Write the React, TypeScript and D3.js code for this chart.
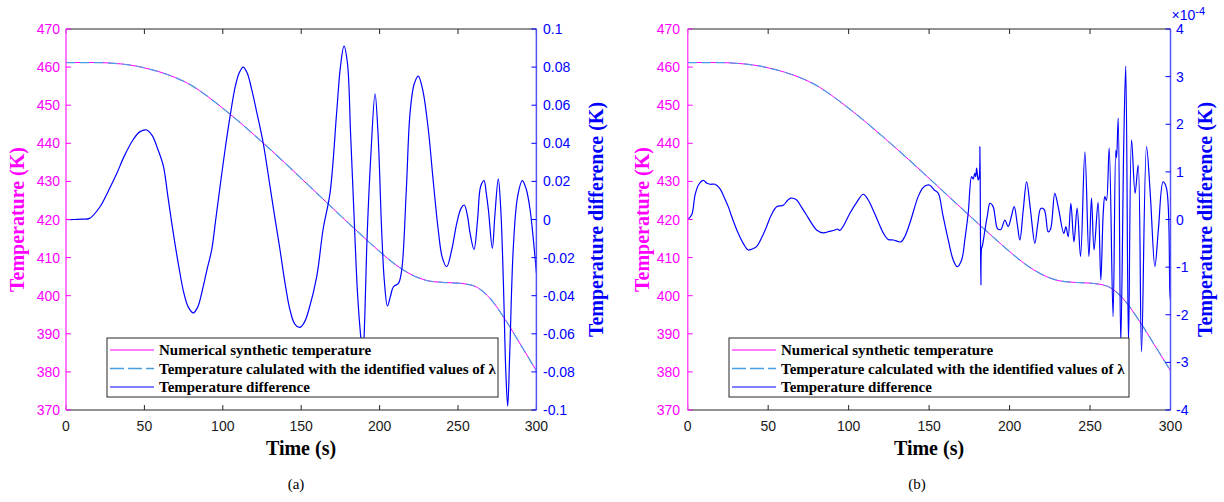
import React from 'react';
import * as d3 from 'd3';

// ---------- data ----------
const tempTime = [0, 10, 20, 30, 40, 50, 60, 70, 80, 90, 100, 110, 120, 130, 140, 150, 160, 170, 180, 190, 200, 210, 220, 230, 240, 250, 260, 270, 280, 290, 300];
const tempValues = [461.2, 461.2, 461.2, 461.0, 460.6, 459.8, 458.7, 457.2, 455.2, 452.4, 449.2, 445.8, 442.2, 438.5, 434.7, 430.8, 426.9, 423.0, 419.1, 415.3, 411.6, 408.2, 405.6, 404.0, 403.5, 403.3, 402.6, 399.5, 393.8, 387.1, 380.3];

const diffATime = [0, 5, 10, 15, 21.7, 27, 32.3, 37, 42.9, 47, 51.4, 55, 58.5, 62.1, 65, 68.4, 72, 75, 78, 81.2, 84, 87, 90, 92.9, 95.5, 98.2, 101.5, 104.6, 108, 110.5, 113, 115.5, 118.5, 122, 125.8, 130, 133, 136.5, 140, 143, 146, 149.2, 152, 155, 159.9, 164, 168.4, 172.6, 175, 177.3, 179.5, 181.5, 183.2, 186, 188, 189.3, 190.6, 191.8, 194.5, 197.1, 199, 201.3, 203, 205, 207, 208.8, 212, 214.1, 217, 219.4, 222, 224.7, 227.5, 231.1, 234, 237.4, 240, 242.8, 246, 249.2, 252, 254, 256, 257.7, 260.2, 262.5, 264.4, 266.6, 268, 269.4, 271.9, 273.5, 275.7, 277.3, 278.9, 280.5, 281.7, 283, 285.3, 288, 291, 293.5, 296, 298, 300];
const diffAValues = [0, 0, 0.0002, 0.0006, 0.0067, 0.015, 0.024, 0.033, 0.042, 0.046, 0.047, 0.044, 0.037, 0.028, 0.012, -0.007, -0.025, -0.038, -0.046, -0.049, -0.046, -0.037, -0.026, -0.016, 0.0, 0.017, 0.037, 0.054, 0.070, 0.077, 0.080, 0.077, 0.068, 0.055, 0.040, 0.018, 0.002, -0.016, -0.035, -0.048, -0.055, -0.0566, -0.054, -0.047, -0.030, -0.005, 0.014, 0.056, 0.080, 0.091, 0.082, 0.045, 0.012, -0.040, -0.062, -0.072, -0.050, -0.0143, 0.035, 0.066, 0.045, -0.0055, -0.032, -0.0454, -0.040, -0.0353, -0.0335, -0.0265, 0.015, 0.0557, 0.071, 0.0753, 0.068, 0.047, 0.022, -0.0055, -0.020, -0.0248, -0.016, -0.002, 0.006, 0.0076, 0.002, -0.0072, -0.0157, 0.0, 0.0172, 0.0204, 0.014, 0.005, -0.0151, 0.002, 0.0213, 0.005, -0.0318, -0.080, -0.098, -0.070, -0.0143, 0.012, 0.0204, 0.016, 0.005, -0.010, -0.028];

// panel (b) difference, in units of 1e-4 K
const diffBTime = [0, 2.5, 4.5, 6.6, 9.7, 12, 13.9, 17, 20, 22.5, 25.2, 28, 31.4, 34.5, 37.6, 40, 42.8, 46, 49, 52, 55.3, 59.4, 62, 64.2, 67.7, 70.5, 73.9, 77, 80.1, 84.2, 88, 91.5, 93, 94.6, 97, 100.8, 105, 109.1, 112, 114.3, 118.4, 121.5, 124.6, 127.7, 132.5, 135, 138, 143.2, 146, 148.4, 150.5, 153.2, 155.7, 158.5, 161.9, 165, 167.5, 170.2, 172.3, 174.3, 176.4, 177.4, 178.4, 179, 179.5, 180, 180.5, 181.2, 181.6, 181.9, 182.2, 182.6, 183, 184.7, 186.3, 187.8, 189.8, 191, 192.5, 194.6, 197.1, 199.1, 201, 202.9, 204.8, 206.4, 208.5, 210.6, 213, 215.7, 217.5, 219.4, 221.5, 224, 225.5, 228.1, 230.2, 233.7, 235, 236.4, 238.1, 240, 242, 244.1, 246.8, 249.3, 250.9, 252.5, 255, 256.7, 258.2, 259.2, 260.2, 261.9, 264.3, 266, 266.5, 267.5, 269.1, 271, 272.2, 273.9, 275.8, 278, 279.9, 282, 285.1, 287.5, 290.3, 292.5, 295.4, 297.5, 299.6, 300];
const diffBValues = [0, 0.1, 0.5, 0.72, 0.82, 0.76, 0.74, 0.74, 0.65, 0.48, 0.27, 0.0, -0.29, -0.5, -0.64, -0.62, -0.57, -0.38, -0.15, 0.1, 0.27, 0.30, 0.40, 0.45, 0.41, 0.27, 0.09, -0.08, -0.22, -0.28, -0.25, -0.22, -0.2, -0.23, -0.12, 0.13, 0.36, 0.53, 0.42, 0.27, -0.05, -0.28, -0.42, -0.43, -0.47, -0.35, -0.08, 0.48, 0.66, 0.72, 0.72, 0.62, 0.55, 0.1, -0.43, -0.85, -0.99, -0.85, -0.4, 0.13, 0.90, 0.85, 0.97, 0.9, 1.08, 0.95, 0.83, 0.9, 1.53, -0.2, -1.38, -0.6, -0.57, -0.22, 0.1, 0.34, 0.27, 0.05, -0.19, -0.21, -0.01, -0.15, 0.05, 0.27, -0.1, -0.43, 0.2, 0.79, 0.2, -0.5, -0.1, 0.23, 0.21, -0.26, -0.2, 0.55, 0.27, -0.29, -0.15, -0.36, 0.34, -0.47, 0.24, -0.78, 1.42, -0.78, 0.45, -0.64, 0.36, -1.27, 0.13, 0.48, 0.4, 1.5, -2.04, 1.45, 1.3, 2.13, -2.6, 1.67, 3.22, -2.6, 1.67, 0.55, 1.14, -2.78, 1.53, 0.5, -0.99, -0.2, 0.79, 0.66, -1.52, -1.7];

const xTicks = [0, 50, 100, 150, 200, 250, 300];
const leftTicks = [370, 380, 390, 400, 410, 420, 430, 440, 450, 460, 470];
const rightTicksA = [-0.1, -0.08, -0.06, -0.04, -0.02, 0, 0.02, 0.04, 0.06, 0.08, 0.1];
const rightLabelsA = ['-0.1', '-0.08', '-0.06', '-0.04', '-0.02', '0', '0.02', '0.04', '0.06', '0.08', '0.1'];
const rightTicksB = [-4, -3, -2, -1, 0, 1, 2, 3, 4];
const rightLabelsB = ['-4', '-3', '-2', '-1', '0', '1', '2', '3', '4'];

const legendA = ['Numerical synthetic temperature', 'Temperature calulated with the identified values of λ', 'Temperature difference'];
const legendB = ['Numerical synthetic temperature', 'Temperature calculated with the identified values of λ', 'Temperature difference'];

// ---------- styling ----------
const MAGENTA = '#ff00ff';
const BLUE = '#0000ff';
const DASH = '#4a9fe0';
const AXIS = '#262626';
const SANS = '"Liberation Sans", Arial, Helvetica, sans-serif';
const SERIF = '"Liberation Serif", "Times New Roman", serif';

type PanelProps = {
  id: string;
  left: number; right: number; top: number; bottom: number;
  diffTime: number[]; diffValues: number[];
  rightDomain: [number, number];
  rightTicks: number[]; rightLabels: string[];
  leftLabelX: number; rightLabelX: number;
  leftTitleX: number; rightTitleX: number;
  timeCenter: number; tagX: number; tag: string;
  legendX: number; legendW: number; legend: string[];
  exponent?: boolean;
};

function Panel(p: PanelProps) {
  const x = d3.scaleLinear().domain([0, 300]).range([p.left, p.right]);
  const yL = d3.scaleLinear().domain([370, 470]).range([p.bottom, p.top]);
  const yR = d3.scaleLinear().domain(p.rightDomain).range([p.bottom, p.top]);

  const tempLine = d3.line<number>().x((_, i) => x(tempTime[i])).y((d) => yL(d)).curve(d3.curveMonotoneX);
  const diffLine = d3.line<number>().x((_, i) => x(p.diffTime[i])).y((d) => yR(d)).curve(d3.curveCatmullRom.alpha(0.5));

  const tl = 5;
  const midY = (p.top + p.bottom) / 2;
  const legTop = 338;
  const legH = 59;
  const rowY = [350, 368.5, 387];
  const clipId = 'clip-' + p.id;

  return (
    <g>
      <defs>
        <clipPath id={clipId}>
          <rect x={p.left} y={p.top} width={p.right - p.left} height={p.bottom - p.top} />
        </clipPath>
      </defs>
      <g clipPath={`url(#${clipId})`}>
        <path d={tempLine(tempValues) || ''} fill="none" stroke={MAGENTA} strokeWidth={1} />
        <path d={tempLine(tempValues) || ''} fill="none" stroke={DASH} strokeWidth={1.2} strokeDasharray="9,5" />
        <path d={diffLine(p.diffValues) || ''} fill="none" stroke={BLUE} strokeWidth={1.2} />
      </g>

      {/* box top and bottom */}
      <line x1={p.left} x2={p.right} y1={p.top} y2={p.top} stroke={AXIS} strokeWidth={1} />
      <line x1={p.left} x2={p.right} y1={p.bottom} y2={p.bottom} stroke={AXIS} strokeWidth={1} />
      {xTicks.map((t) => (
        <g key={'xt' + t}>
          <line x1={x(t)} x2={x(t)} y1={p.bottom} y2={p.bottom - tl} stroke={AXIS} />
          <line x1={x(t)} x2={x(t)} y1={p.top} y2={p.top + tl} stroke={AXIS} />
          <text x={x(t)} y={431} textAnchor="middle" fontFamily={SANS} fontSize={14} fill="#1a1a1a">{t}</text>
        </g>
      ))}

      {/* left axis */}
      <line x1={p.left} x2={p.left} y1={p.top} y2={p.bottom} stroke="#ff4dff" strokeWidth={1.5} />
      {leftTicks.map((t) => (
        <g key={'lt' + t}>
          <line x1={p.left} x2={p.left + tl} y1={yL(t)} y2={yL(t)} stroke={MAGENTA} />
          <text x={p.leftLabelX} y={yL(t) + 5} textAnchor="end" fontFamily={SANS} fontSize={14} fill={MAGENTA}>{t}</text>
        </g>
      ))}
      <text transform={`translate(${p.leftTitleX},${midY}) rotate(-90)`} textAnchor="middle" fontFamily={SERIF} fontWeight="bold" fontSize={20} fill={MAGENTA}>Temperature (K)</text>

      {/* right axis */}
      <line x1={p.right} x2={p.right} y1={p.top} y2={p.bottom} stroke="#5252ff" strokeWidth={1.5} />
      {p.rightTicks.map((t, i) => (
        <g key={'rt' + t}>
          <line x1={p.right} x2={p.right - tl} y1={yR(t)} y2={yR(t)} stroke={BLUE} />
          <text x={p.rightLabelX} y={yR(t) + 5} textAnchor="start" fontFamily={SANS} fontSize={14} fill={BLUE}>{p.rightLabels[i]}</text>
        </g>
      ))}
      <text transform={`translate(${p.rightTitleX},${midY}) rotate(-90)`} textAnchor="middle" fontFamily={SERIF} fontWeight="bold" fontSize={20} fill={BLUE}>Temperature difference (K)</text>
      {p.exponent && (
        <text x={p.right + 1} y={20} fontFamily={SANS} fontSize={14} fill={BLUE}>
          ×10<tspan dy={-5} fontSize={11}>-4</tspan>
        </text>
      )}

      {/* x title and tag */}
      <text x={p.timeCenter} y={455} textAnchor="middle" fontFamily={SERIF} fontWeight="bold" fontSize={20} fill="#000">Time (s)</text>
      <text x={p.tagX} y={489} textAnchor="middle" fontFamily={SERIF} fontSize={15} fill="#000">{p.tag}</text>

      {/* legend */}
      <rect x={p.legendX} y={legTop} width={p.legendW} height={legH} fill="#fff" stroke={AXIS} strokeWidth={1} />
      {p.legend.map((s, i) => (
        <g key={'lg' + i}>
          <line x1={p.legendX + 3} x2={p.legendX + 47} y1={rowY[i]} y2={rowY[i]}
            stroke={i === 0 ? MAGENTA : i === 1 ? DASH : BLUE}
            strokeWidth={i === 1 ? 1.3 : 1}
            strokeDasharray={i === 1 ? '14,4' : undefined} />
          <text x={p.legendX + 52} y={rowY[i] + 5} fontFamily={SERIF} fontWeight="bold" fontSize={15} fill="#000">{s}</text>
        </g>
      ))}
    </g>
  );
}

export default function App() {
  return (
    <svg width={1224} height={502} style={{ position: 'absolute', left: 0, top: 0, background: '#fff' }}>
      <rect x={0} y={0} width={1224} height={502} fill="#fff" />
      <Panel id="a" left={66} right={536.4} top={29} bottom={410}
        diffTime={diffATime} diffValues={diffAValues}
        rightDomain={[-0.1, 0.1]} rightTicks={rightTicksA} rightLabels={rightLabelsA}
        leftLabelX={60} rightLabelX={543} leftTitleX={24} rightTitleX={603}
        timeCenter={301} tagX={296} tag="(a)"
        legendX={107} legendW={391} legend={legendA} />
      <Panel id="b" left={687.7} right={1170.5} top={29} bottom={410}
        diffTime={diffBTime} diffValues={diffBValues}
        rightDomain={[-4, 4]} rightTicks={rightTicksB} rightLabels={rightLabelsB}
        leftLabelX={680} rightLabelX={1176} leftTitleX={649} rightTitleX={1212}
        timeCenter={929} tagX={917} tag="(b)"
        legendX={729} legendW={400} legend={legendB} exponent />
    </svg>
  );
}
